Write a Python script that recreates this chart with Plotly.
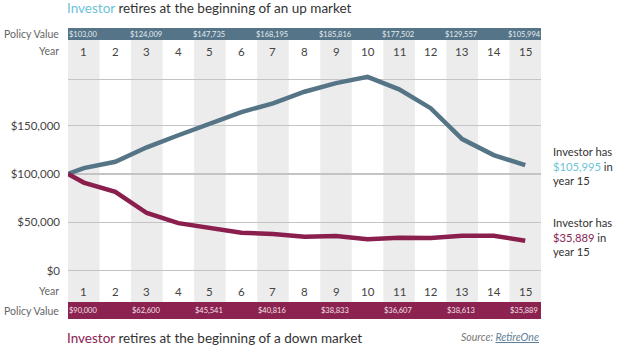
import plotly.graph_objects as go

# ---------------- data ----------------
years = list(range(0, 16))
up_values = [100000, 106000, 112500, 127500, 140000, 152000, 164000, 173000,
             185000, 194000, 200500, 187500, 168000, 136000, 119500, 109000]
down_values = [100000, 91000, 81500, 59500, 49000, 43700, 39000, 37800,
               35000, 35700, 32300, 34000, 33600, 36000, 36000, 30800]

year_labels = [str(y) for y in range(1, 16)]
policy_years = [1, 3, 5, 7, 9, 11, 13, 15]
up_policy_labels = ["$103,00", "$124,009", "$147,735", "$168,195",
                    "$185,816", "$177,502", "$129,557", "$105,994"]
down_policy_labels = ["$90,000", "$62,600", "$45,541", "$40,816",
                      "$38,833", "$36,607", "$38,613", "$35,889"]

y_tickvals = [0, 50000, 100000, 150000, 198000]
y_ticktext = ["$0", "$50,000", "$100,000", "$150,000", ""]

up_end_text = "$105,995"
down_end_text = "$35,889"

# ---------------- style ----------------
FONT = "Lato"
BLUE_LINE = "#557587"
RED_LINE = "#8a1f4e"
TOP_BAR = "#557488"
BOT_BAR = "#8b2250"
LIGHT_BLUE = "#6cc3d6"
MAROON = "#8b2252"
SHADE = "#ececec"
TEXT = "#444444"
GRAY = "#666666"

W, H = 624, 359
ML, MR, MT, MB = 68, 83, 28, 40
PH = H - MT - MB


def py(p):
    """pixel y -> paper fraction"""
    return (H - MB - p) / PH


# year 0 sits on the left edge of the first column
x_plot = [y if y > 0 else 0.5 for y in years]

fig = go.Figure()
fig.add_trace(go.Scatter(x=x_plot, y=up_values, mode="lines",
                         line=dict(color=BLUE_LINE, width=4.5),
                         cliponaxis=False, hoverinfo="skip"))
fig.add_trace(go.Scatter(x=x_plot, y=down_values, mode="lines",
                         line=dict(color=RED_LINE, width=4.5),
                         cliponaxis=False, hoverinfo="skip"))

shapes = []
# shaded odd-year columns
for k in range(1, 16, 2):
    shapes.append(dict(type="rect", xref="x", yref="paper",
                       x0=k - 0.5, x1=k + 0.5, y0=py(302), y1=py(40),
                       fillcolor=SHADE, line=dict(width=0), layer="below"))
# top and bottom bars
shapes.append(dict(type="rect", xref="paper", yref="paper", x0=0, x1=1,
                   y0=py(40), y1=py(28), fillcolor=TOP_BAR,
                   line=dict(width=0), layer="above"))
shapes.append(dict(type="rect", xref="paper", yref="paper", x0=0, x1=1,
                   y0=py(319), y1=py(302), fillcolor=BOT_BAR,
                   line=dict(width=0), layer="above"))

ann = []
# year labels
for i, lab in enumerate(year_labels):
    for p in (51, 291):
        ann.append(dict(x=i + 1, y=py(p), xref="x", yref="paper",
                        text=lab, showarrow=False, xanchor="center",
                        yanchor="middle",
                        font=dict(family=FONT, size=11.5, color=TEXT)))
# policy value labels
for yr, lab in zip(policy_years, up_policy_labels):
    ann.append(dict(x=yr, y=py(34), xref="x", yref="paper", text=lab,
                    showarrow=False, xanchor="center", yanchor="middle",
                    xshift=-1,
                    font=dict(family=FONT, size=7.5, color="#e4ecf1")))
for yr, lab in zip(policy_years, down_policy_labels):
    ann.append(dict(x=yr, y=py(310.5), xref="x", yref="paper", text=lab,
                    showarrow=False, xanchor="center", yanchor="middle",
                    xshift=-1,
                    font=dict(family=FONT, size=7.5, color="#f3e2ea")))
# left row labels
for txt, p in (("Policy Value", 34), ("Year", 51), ("Year", 291),
               ("Policy Value", 310.5)):
    ann.append(dict(x=0, y=py(p), xref="paper", yref="paper", text=txt,
                    showarrow=False, xanchor="right", yanchor="middle",
                    xshift=-7,
                    font=dict(family=FONT, size=10.5, color=GRAY)))
# titles
ann.append(dict(x=0, y=py(8), xref="paper", yref="paper",
                text=f"<span style='color:{LIGHT_BLUE}'>Investor</span> retires at the beginning of an up market",
                showarrow=False, xanchor="left", yanchor="middle", xshift=-3,
                font=dict(family=FONT, size=13.5, color="#333333")))
ann.append(dict(x=0, y=py(338), xref="paper", yref="paper",
                text=f"<span style='color:{MAROON}'>Investor</span> retires at the beginning of a down market",
                showarrow=False, xanchor="left", yanchor="middle", xshift=-3,
                font=dict(family=FONT, size=13.5, color="#333333")))
ann.append(dict(x=1, y=py(337), xref="paper", yref="paper",
                text="<i>Source: <span style='color:#5f8096'><u>RetireOne</u></span></i>",
                showarrow=False, xanchor="right", yanchor="middle",
                font=dict(family=FONT, size=10.5, color="#777777")))
# right-side notes
notes = [
    (166, f"Investor has<br><span style='color:{LIGHT_BLUE}'>{up_end_text}</span> in<br>year 15"),
    (236.5, f"Investor has<br><span style='color:{MAROON}'>{down_end_text}</span> in<br>year 15"),
]
for p, txt in notes:
    ann.append(dict(x=1, y=py(p), xref="paper", yref="paper", text=txt,
                    showarrow=False, xanchor="left", yanchor="middle",
                    align="left", xshift=10,
                    font=dict(family=FONT, size=11.2, color="#333333")))

fig.update_layout(
    width=W, height=H,
    margin=dict(l=ML, r=MR, t=MT, b=MB, pad=0, autoexpand=False),
    paper_bgcolor="white", plot_bgcolor="white",
    showlegend=False,
    shapes=shapes, annotations=ann,
    xaxis=dict(range=[0.5, 15.5], showgrid=False, zeroline=False,
               showticklabels=False, ticks="", fixedrange=True,
               automargin=False),
    yaxis=dict(range=[-50200, 251000], tickvals=y_tickvals,
               ticktext=y_ticktext, showgrid=True, gridcolor="#c4c4c4",
               gridwidth=1.3, zeroline=False, ticks="",
               ticklabelstandoff=7, automargin=False, fixedrange=True,
               tickfont=dict(family=FONT, size=11.5, color=TEXT)),
)

fig.write_html(
    "out.html",
    config={"displayModeBar": False, "staticPlot": True},
    post_script="document.body.style.margin='0';document.body.style.overflow='hidden';",
)
